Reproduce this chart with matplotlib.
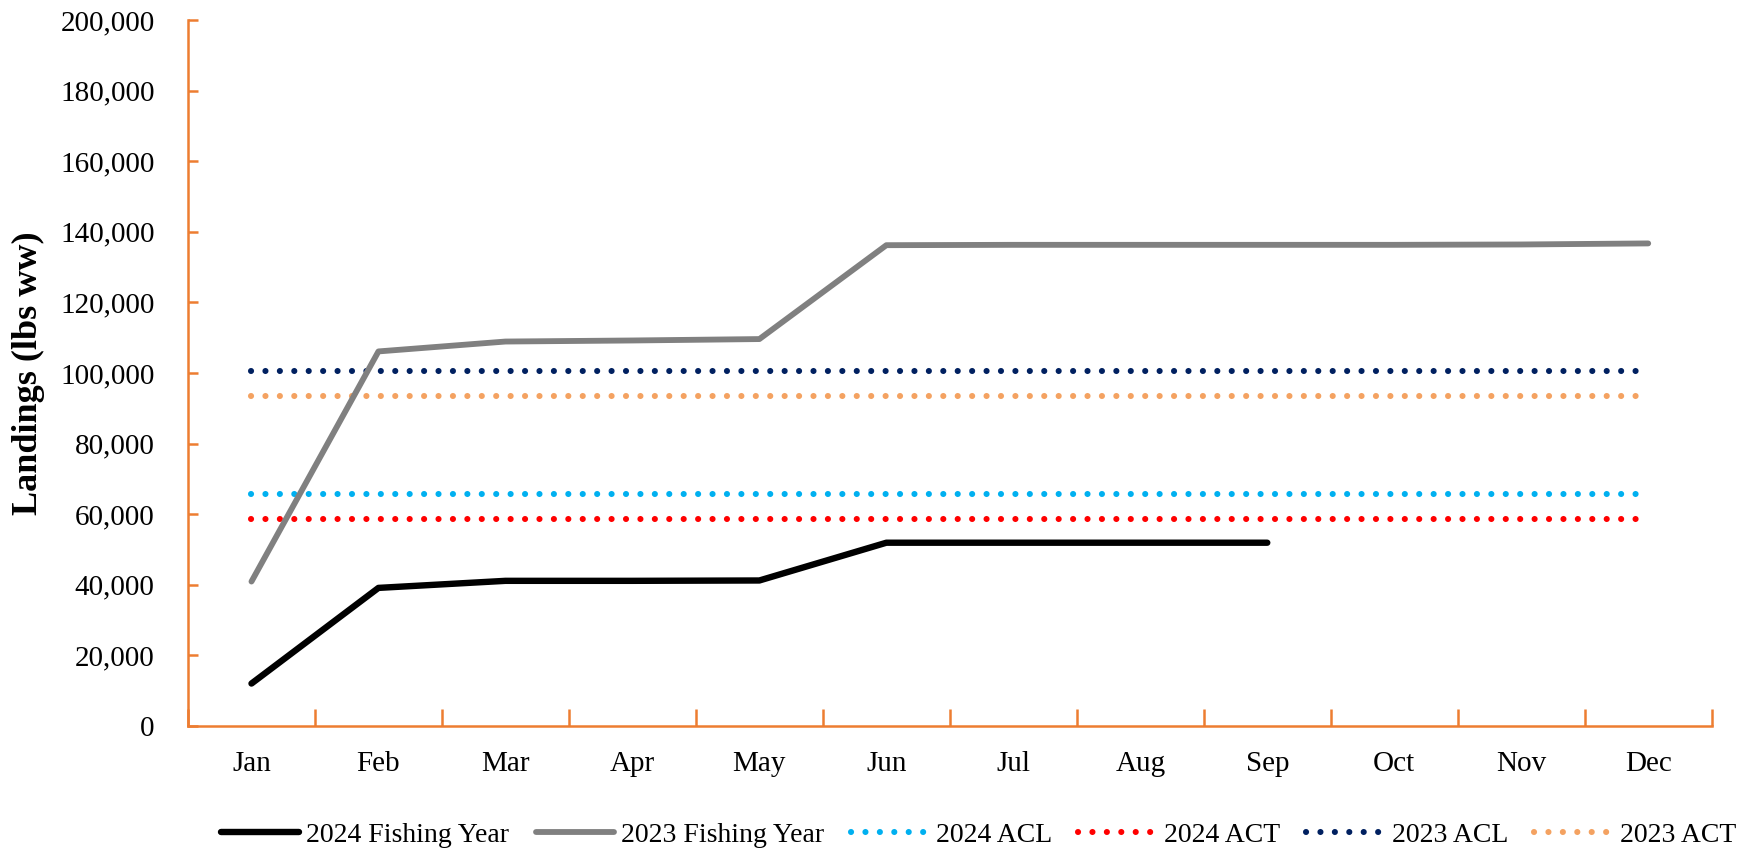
import matplotlib
matplotlib.use("Agg")
import matplotlib.pyplot as plt
from matplotlib.ticker import FuncFormatter

months = ["Jan", "Feb", "Mar", "Apr", "May", "Jun", "Jul", "Aug", "Sep", "Oct", "Nov", "Dec"]
fy2024 = [12000, 39100, 41100, 41100, 41200, 51900, 51900, 51900, 51900]
fy2023 = [40900, 106100, 108900, 109200, 109600, 136200, 136300, 136300, 136300, 136300, 136400, 136700]
acl_2024 = 65800
act_2024 = 58600
acl_2023 = 100600
act_2023 = 93600

plt.rcParams['font.family'] = ['Liberation Serif', 'DejaVu Serif']

fig = plt.figure(figsize=(17.52, 8.55), dpi=100)
ax = fig.add_axes([0.1073, 0.151, 0.977 - 0.1073, 0.9766 - 0.151])

x_all = list(range(len(months)))
dot = (0, (0.01, 2.35))
dlw = 4.4
ax.plot(range(len(fy2024)), fy2024, color="black", lw=4.6, solid_capstyle="round",
        solid_joinstyle="round", label="2024 Fishing Year", zorder=5)
ax.plot(x_all, fy2023, color="#808080", lw=4.2, solid_capstyle="round",
        solid_joinstyle="round", label="2023 Fishing Year", zorder=4)
ax.plot(x_all, [acl_2024] * 12, color="#00B0F0", lw=dlw, ls=dot, dash_capstyle="round", label="2024 ACL")
ax.plot(x_all, [act_2024] * 12, color="#FF0000", lw=dlw, ls=dot, dash_capstyle="round", label="2024 ACT")
ax.plot(x_all, [acl_2023] * 12, color="#002060", lw=dlw, ls=dot, dash_capstyle="round", label="2023 ACL")
ax.plot(x_all, [act_2023] * 12, color="#F4A261", lw=dlw, ls=dot, dash_capstyle="round", label="2023 ACT")

ax.set_xlim(-0.5, 11.5)
ax.set_ylim(0, 200000)
ax.set_yticks(range(0, 200001, 20000))
ax.yaxis.set_major_formatter(FuncFormatter(lambda v, p: f"{int(v):,}"))
ax.set_xticks(x_all)
ax.set_xticklabels(months)
ax.set_xticks([i + 0.5 for i in range(-1, 12)], minor=True)

orange = "#ED7D31"
for s in ["top", "right"]:
    ax.spines[s].set_visible(False)
for s in ["left", "bottom"]:
    ax.spines[s].set_color(orange)
    ax.spines[s].set_linewidth(1.8)

ax.tick_params(axis="y", direction="in", length=7, width=1.8, color=orange,
               labelsize=21, pad=24)
ax.tick_params(axis="x", which="major", length=0, labelsize=21, pad=18)
ax.tick_params(axis="x", which="minor", direction="in", length=12, width=1.8, color=orange)

ax.set_ylabel("Landings (lbs ww)", fontsize=26, fontweight="bold")
ax.yaxis.set_label_coords(-0.094, 0.5)

fig.legend(loc="center", bbox_to_anchor=(0.5585, 0.023), ncol=6, frameon=False,
           fontsize=20, handlelength=2.8, handletextpad=0.27, columnspacing=0.95)

fig.savefig("out.png", dpi=100)
